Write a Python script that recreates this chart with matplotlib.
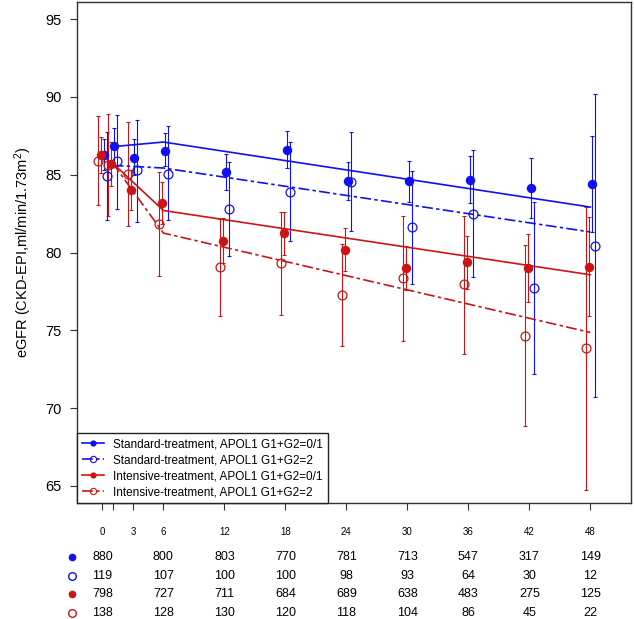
import matplotlib
matplotlib.use('Agg')
from matplotlib import pyplot as plt
from matplotlib.lines import Line2D

plt.rcParams['font.family'] = ['Liberation Sans', 'DejaVu Sans']
plt.rcParams['mathtext.default'] = 'regular'

# visit times (months) and times that have numbers at risk
times = [0, 1, 3, 6, 12, 18, 24, 30, 36, 42, 48]
count_times = [0, 6, 12, 18, 24, 30, 36, 42, 48]
tick_labels = ['0', '', '3', '6', '12', '18', '24', '30', '36', '42', '48']

# observed mean eGFR with 95% CI (lo, hi)
std_01 = [86.27, 86.82, 86.10, 86.52, 85.19, 86.61, 84.57, 84.57, 84.68, 84.14, 84.38]
std_01_lo = [85.30, 85.64, 85.00, 85.53, 84.04, 85.43, 83.39, 83.26, 83.18, 82.21, 81.30]
std_01_hi = [87.30, 88.00, 87.30, 87.68, 86.33, 87.79, 85.79, 85.86, 86.18, 86.07, 87.50]

std_2 = [84.92, 85.86, 85.28, 85.06, 82.79, 83.91, 84.55, 81.62, 82.50, 77.71, 80.43]
std_2_lo = [82.10, 82.81, 81.95, 82.06, 79.79, 80.71, 81.35, 77.99, 78.42, 72.18, 70.70]
std_2_hi = [87.75, 88.84, 88.54, 88.11, 85.82, 87.11, 87.75, 85.24, 86.59, 83.26, 90.20]

int_01 = [86.25, 85.72, 84.02, 83.18, 80.71, 81.23, 80.16, 78.98, 79.41, 79.00, 79.08]
int_01_lo = [85.11, 84.30, 82.75, 81.83, 79.32, 79.86, 78.78, 77.60, 77.65, 76.85, 75.89]
int_01_hi = [87.40, 87.10, 85.28, 84.53, 82.21, 82.60, 81.55, 80.39, 81.08, 81.16, 82.26]

int_2 = [85.90, 85.62, 85.05, 81.83, 79.10, 79.30, 77.28, 78.36, 77.95, 74.65, 73.83]
int_2_lo = [83.07, 82.32, 81.70, 78.46, 75.93, 76.00, 74.00, 74.34, 73.49, 68.88, 64.74]
int_2_hi = [88.75, 88.92, 88.39, 85.17, 82.17, 82.58, 80.54, 82.36, 82.36, 80.45, 82.90]

# fitted piecewise-linear trajectories (knot at 6 months)
fit_t = [1, 6, 48]
fit_std_01 = [86.80, 87.10, 82.92]
fit_std_2 = [85.60, 85.43, 81.32]
fit_int_01 = [85.75, 82.70, 78.57]
fit_int_2 = [85.75, 81.25, 74.86]

# numbers at risk
n_std_01 = [880, 800, 803, 770, 781, 713, 547, 317, 149]
n_std_2 = [119, 107, 100, 100, 98, 93, 64, 30, 12]
n_int_01 = [798, 727, 711, 684, 689, 638, 483, 275, 125]
n_int_2 = [138, 128, 130, 120, 118, 104, 86, 45, 22]

labels = ['Standard-treatment, APOL1 G1+G2=0/1',
          'Standard-treatment, APOL1 G1+G2=2',
          'Intensive-treatment, APOL1 G1+G2=0/1',
          'Intensive-treatment, APOL1 G1+G2=2']

blue = '#1010F0'
red = '#CC1414'
dashdot = (0, (6.5, 2, 2, 2))

W, H = 634, 619
fig = plt.figure(figsize=(W / 100, H / 100), dpi=100)
ax = fig.add_axes([77 / W, 1 - 503 / H, (631 - 77) / W, (503 - 2) / H])

groups = [
    (std_01, std_01_lo, std_01_hi, fit_std_01, blue, True, '-', 0.15),
    (std_2, std_2_lo, std_2_hi, fit_std_2, blue, False, dashdot, 0.45),
    (int_01, int_01_lo, int_01_hi, fit_int_01, red, True, '-', -0.15),
    (int_2, int_2_lo, int_2_hi, fit_int_2, red, False, dashdot, -0.45),
]

handles = []
for (m, lo, hi, fit, col, filled, ls, dx) in groups:
    xs = [t + dx for t in times]
    yerr = [[v - l for v, l in zip(m, lo)], [h - v for v, h in zip(m, hi)]]
    ax.errorbar(xs, m, yerr=yerr, fmt='none', ecolor=col, elinewidth=0.8,
                capsize=1.3, capthick=0.8, zorder=2)
    ax.plot(xs, m, 'o', ls='none', ms=6.8 if filled else 6.4,
            mfc=col if filled else 'none', mec=col,
            mew=0 if filled else 0.9, zorder=3)
    ax.plot(fit_t, fit, color=col, lw=1.2, ls=ls, zorder=2.5)
    handles.append(Line2D([], [], color=col, lw=1.2, ls=ls, marker='o',
                          ms=4.5, mfc=col if filled else 'none', mec=col,
                          mew=0 if filled else 0.8))

ax.set_xlim(-2.5, 52)
ax.set_ylim(63.9, 96.1)
ax.set_xticks(times)
ax.set_xticklabels(tick_labels, fontsize=7)
ax.set_yticks([65, 70, 75, 80, 85, 90, 95])
ax.tick_params(axis='y', labelsize=10.5, length=5, pad=6, color='#333333')
ax.tick_params(axis='x', length=5, pad=12, color='#333333')
for s in ax.spines.values():
    s.set_color('#333333')
    s.set_linewidth(1.0)
ax.set_ylabel('eGFR (CKD-EPI,ml/min/1.73m$^2$)', fontsize=10.5, labelpad=8)

leg = ax.legend(handles, labels, loc='lower left', bbox_to_anchor=(0, 0),
                borderaxespad=0, fontsize=8.5, handlelength=1.9,
                handletextpad=0.75, labelspacing=0.33, borderpad=0.42,
                fancybox=False, framealpha=1, edgecolor='#222222')
leg.get_frame().set_linewidth(1.0)

# numbers-at-risk table
row_y = [556.7, 575.7, 594.3, 612.7]
counts = [n_std_01, n_std_2, n_int_01, n_int_2]
for (m, lo, hi, fit, col, filled, ls, dx), n, ry in zip(groups, counts, row_y):
    fy = 1 - ry / H
    fig.add_artist(Line2D([71.5 / W], [fy], marker='o', ls='none', ms=5.5,
                          mfc=col if filled else 'none', mec=col,
                          mew=0 if filled else 1.0,
                          transform=fig.transFigure))
    for t, v in zip(count_times, n):
        xf = fig.transFigure.inverted().transform(ax.transData.transform((t, 70)))[0]
        fig.text(xf, fy, str(v), ha='center', va='center', fontsize=9)

plt.savefig('out.png', dpi=100)
